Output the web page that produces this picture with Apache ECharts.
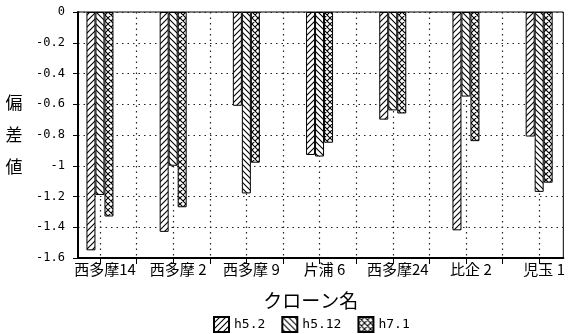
<!DOCTYPE html>
<html><head><meta charset="utf-8">
<script src="https://cdn.jsdelivr.net/npm/echarts@6/dist/echarts.min.js"></script>
<style>html,body{margin:0;padding:0;background:#fff}#c{width:568px;height:334px}</style>
</head><body><div id="c"></div>
<script>
// ---- data ----
const categories = ['西多摩14', '西多摩 2', '西多摩 9', '片浦 6', '西多摩24', '比企 2', '児玉 1'];
const seriesNames = ['h5.2', 'h5.12', 'h7.1'];
const h52  = [-1.55, -1.43, -0.61, -0.93, -0.70, -1.42, -0.81];
const h512 = [-1.19, -1.00, -1.18, -0.94, -0.64, -0.55, -1.17];
const h71  = [-1.33, -1.27, -0.98, -0.85, -0.66, -0.84, -1.11];
const xTickValues = [1, 1.5, 2, 2.5, 3, 3.5, 4, 4.5, 5, 5.5, 6, 6.5, 7];
const xLabelValues = [1, 2, 3, 4, 5, 6, 7];
const yMin = -1.6, yMax = 0, yStep = 0.2;
const xTitle = 'クローン名';
const yTitle = '偏\n差\n値';

// ---- hatch patterns ----
function makePattern(kind) {
  const s = 6;
  const c = document.createElement('canvas');
  c.width = s; c.height = s;
  const g = c.getContext('2d');
  g.fillStyle = '#fff'; g.fillRect(0, 0, s, s);
  g.strokeStyle = '#000'; g.lineWidth = 1.1;
  g.beginPath();
  if (kind === 'fwd' || kind === 'cross') {
    g.moveTo(-1, s + 1); g.lineTo(s + 1, -1);
    g.moveTo(-1, 1); g.lineTo(1, -1);
    g.moveTo(s - 1, s + 1); g.lineTo(s + 1, s - 1);
  }
  if (kind === 'back' || kind === 'cross') {
    g.moveTo(-1, -1); g.lineTo(s + 1, s + 1);
    g.moveTo(s - 1, -1); g.lineTo(s + 1, 1);
    g.moveTo(-1, s - 1); g.lineTo(1, s + 1);
  }
  g.stroke();
  return { image: c, repeat: 'repeat' };
}
const patterns = [makePattern('fwd'), makePattern('back'), makePattern('cross')];
const values = [h52, h512, h71];

const chart = echarts.init(document.getElementById('c'), null, { renderer: 'canvas' });
const monoFont = 'DejaVu Sans Mono';
const cjkFont = '"Noto Sans CJK JP", "Noto Sans", sans-serif';

chart.setOption({
  backgroundColor: '#fff',
  animation: false,
  grid: { left: 78, right: 4, top: 12, bottom: 76, show: true, borderColor: '#000', borderWidth: 1, backgroundColor: 'transparent' },
  legend: {
    left: 208, top: 311, itemWidth: 15, itemHeight: 15, itemGap: 16, icon: 'rect',
    textStyle: { fontFamily: monoFont, fontSize: 13, color: '#000' },
    data: seriesNames
  },
  xAxis: {
    type: 'value', min: 0.7, max: 7.33,
    name: xTitle, nameLocation: 'middle', nameGap: 33,
    nameTextStyle: { fontFamily: cjkFont, fontSize: 19, color: '#000', padding: [0, 20, 0, 0] },
    axisLine: { show: true, onZero: false, lineStyle: { color: '#000', width: 2 } },
    axisTick: { show: true, inside: false, length: 6, lineStyle: { color: '#000' }, customValues: xTickValues },
    axisLabel: {
      margin: 4, fontFamily: cjkFont, fontSize: 15, color: '#000', padding: [0, 0, 0, 10],
      customValues: xLabelValues,
      formatter: function (v) {
        const r = Math.round(v);
        return (Math.abs(v - r) < 1e-6 && r >= 1 && r <= categories.length) ? categories[r - 1] : '';
      }
    },
    splitLine: { show: true, lineStyle: { color: '#222', width: 1.2, type: [1.5, 4] } }
  },
  yAxis: {
    type: 'value', min: yMin, max: yMax, interval: yStep,
    name: yTitle, nameLocation: 'middle', nameRotate: 0, nameGap: 64,
    nameTextStyle: { fontFamily: cjkFont, fontSize: 17, lineHeight: 32, color: '#000', align: 'center', verticalAlign: 'middle', padding: [6, 0, 0, 0] },
    axisLine: { show: true, onZero: false, lineStyle: { color: '#000', width: 2 } },
    axisTick: { show: true, inside: false, length: 5, lineStyle: { color: '#000' } },
    axisLabel: { margin: 13, fontFamily: monoFont, fontSize: 12, color: '#000' },
    splitLine: { show: true, lineStyle: { color: '#222', width: 1.2, type: [1.5, 4] } }
  },
  series: seriesNames.map(function (name, k) {
    return {
      name: name, type: 'bar', barWidth: 9, barGap: '0%',
      itemStyle: { color: patterns[k], borderColor: '#000', borderWidth: 1 },
      data: values[k].map(function (v, i) { return [i + 1, v]; })
    };
  })
});
</script></body></html>
